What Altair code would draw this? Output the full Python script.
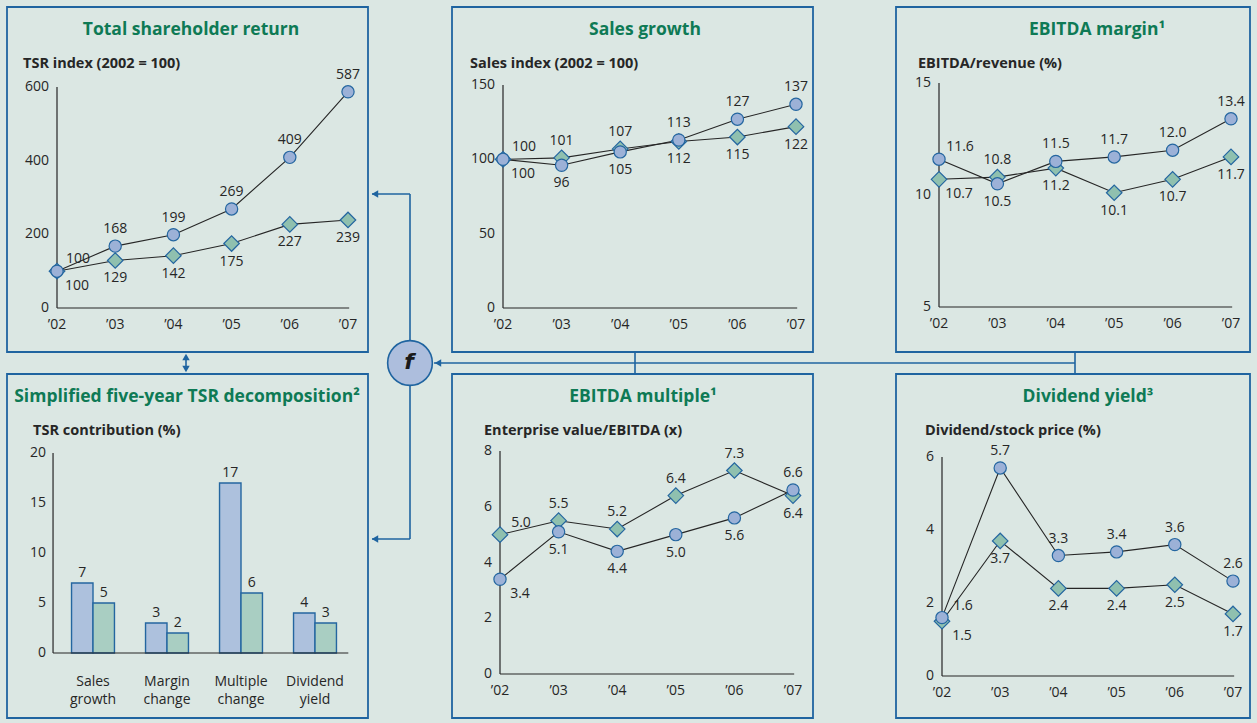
import altair as alt
import pandas as pd

# ---- values -------------------------------------------------------------
YEARS = ["’02", "’03", "’04", "’05", "’06", "’07"]

TSR_CIRCLE = [100, 168, 199, 269, 409, 587]
TSR_DIAMOND = [100, 129, 142, 175, 227, 239]
TSR_TICKS = [0, 200, 400, 600]

SALES_CIRCLE = [100, 96, 105, 113, 127, 137]
SALES_DIAMOND = [100, 101, 107, 112, 115, 122]
SALES_TICKS = [0, 50, 100, 150]

MARGIN_CIRCLE = [11.6, 10.5, 11.5, 11.7, 12.0, 13.4]
MARGIN_DIAMOND = [10.7, 10.8, 11.2, 10.1, 10.7, 11.7]
MARGIN_TICKS = [5, 10, 15]

MULTIPLE_CIRCLE = [3.4, 5.1, 4.4, 5.0, 5.6, 6.6]
MULTIPLE_DIAMOND = [5.0, 5.5, 5.2, 6.4, 7.3, 6.4]
MULTIPLE_TICKS = [0, 2, 4, 6, 8]

DIVIDEND_CIRCLE = [1.6, 5.7, 3.3, 3.4, 3.6, 2.6]
DIVIDEND_DIAMOND = [1.5, 3.7, 2.4, 2.4, 2.5, 1.7]
DIVIDEND_TICKS = [0, 2, 4, 6]

DECOMP_CATS = ["Sales growth", "Margin change", "Multiple change", "Dividend yield"]
DECOMP_BLUE = [7, 3, 17, 4]
DECOMP_GREEN = [5, 2, 6, 3]
DECOMP_TICKS = [0, 5, 10, 15, 20]

# ---- style --------------------------------------------------------------
FONT = "Open Sans"
INK = "#262626"
TITLE_GREEN = "#0e7a55"
FRAME_BLUE = "#1f64a0"
CIRCLE_FILL = "#9cb1d7"
DIAMOND_FILL = "#8fc0af"
MARKER_STROKE = "#2466a0"
BAR_BLUE = "#adc1dd"
BAR_GREEN = "#a9cec2"
BG = "#dbe7e3"
NUM_SIZE = 14
TITLE_SIZE = 17.5
SUB_SIZE = 14.5


def series_frame(circle, diamond):
    rows = []
    for i, (c, d) in enumerate(zip(circle, diamond)):
        c_up = c >= d
        rows.append(dict(i=i, v=c, s="circle", up=c_up, first=(i == 0)))
        rows.append(dict(i=i, v=d, s="diamond", up=(not c_up), first=(i == 0)))
    return pd.DataFrame(rows)


def line_panel(circle, diamond, ticks, fmt, xr, ydom, yr):
    df = series_frame(circle, diamond)
    xsc = alt.Scale(domain=[0, 5], range=list(xr), nice=False, zero=False)
    ysc = alt.Scale(domain=list(ydom), range=list(yr), nice=False, zero=False)

    def X(field="i:Q"):
        return alt.X(field, scale=xsc, axis=None)

    def Y(field="v:Q"):
        return alt.Y(field, scale=ysc, axis=None)

    x0 = alt.X(datum=0, type="quantitative", scale=xsc, axis=None)
    layers = []
    # axis lines
    layers.append(
        alt.Chart().mark_rule(color=INK, strokeWidth=1.2).encode(
            x=x0,
            y=alt.Y(datum=ydom[0], type="quantitative", scale=ysc, axis=None),
            y2=alt.Y2(datum=ydom[1]),
        )
    )
    layers.append(
        alt.Chart().mark_rule(color=INK, strokeWidth=1.2).encode(
            x=x0,
            x2=alt.X2(datum=5.02),
            y=alt.Y(datum=ydom[0], type="quantitative", scale=ysc, axis=None),
        )
    )
    # tick labels
    layers.append(
        alt.Chart(pd.DataFrame({"t": ticks})).mark_text(
            align="right", dx=-8, font=FONT, fontSize=NUM_SIZE, color=INK
        ).encode(x=x0, y=Y("t:Q"), text="t:Q")
    )
    layers.append(
        alt.Chart(pd.DataFrame({"i": list(range(6)), "year": YEARS})).mark_text(
            dy=17, font=FONT, fontSize=NUM_SIZE, color=INK
        ).encode(
            x=X(),
            y=alt.Y(datum=ydom[0], type="quantitative", scale=ysc, axis=None),
            text="year:N",
        )
    )
    base = alt.Chart(df)
    for s in ["diamond", "circle"]:
        layers.append(
            base.transform_filter(alt.datum.s == s)
            .mark_line(color=INK, strokeWidth=1.1)
            .encode(x=X(), y=Y(), order="i:Q")
        )
    layers.append(
        base.transform_filter(alt.datum.s == "diamond")
        .mark_point(shape="diamond", filled=True, fill=DIAMOND_FILL,
                    stroke=MARKER_STROKE, strokeWidth=1.2, size=240, opacity=1)
        .encode(x=X(), y=Y())
    )
    layers.append(
        base.transform_filter(alt.datum.s == "circle")
        .mark_point(shape="circle", filled=True, fill=CIRCLE_FILL,
                    stroke=MARKER_STROKE, strokeWidth=1.2, size=150, opacity=1)
        .encode(x=X(), y=Y())
    )
    # value labels: the higher series above its marker, the lower one below
    placements = [
        ("datum.up && !datum.first", 0, -17),
        ("!datum.up && !datum.first", 0, 18),
        ("datum.up && datum.first", 21, -12),
        ("!datum.up && datum.first", 20, 15),
    ]
    for cond, dx, dy in placements:
        layers.append(
            base.transform_filter(cond)
            .mark_text(dx=dx, dy=dy, font=FONT, fontSize=NUM_SIZE, color=INK)
            .encode(x=X(), y=Y(), text=alt.Text("v:Q", format=fmt))
        )
    return layers


def box(x0, y0, x1, y1):
    return alt.Chart().mark_rect(
        fillOpacity=0, stroke=FRAME_BLUE, strokeWidth=1.8
    ).encode(x=alt.value(x0), x2=alt.value(x1), y=alt.value(y0), y2=alt.value(y1))


def label(text, x, y, size, weight="normal", color=INK, align="center"):
    return alt.Chart().mark_text(
        text=text, font=FONT, fontSize=size, fontWeight=weight, color=color,
        align=align, baseline="middle"
    ).encode(x=alt.value(x), y=alt.value(y))


def rule(x, y, x2=None, y2=None):
    enc = dict(x=alt.value(x), y=alt.value(y))
    if x2 is not None:
        enc["x2"] = alt.value(x2)
    if y2 is not None:
        enc["y2"] = alt.value(y2)
    return alt.Chart().mark_rule(color=FRAME_BLUE, strokeWidth=1.6).encode(**enc)


def arrow(x, y, shape):
    return alt.Chart().mark_point(
        shape=shape, filled=True, color=FRAME_BLUE, size=55, opacity=1
    ).encode(x=alt.value(x), y=alt.value(y))


layers = []

# ---- frames and headings ------------------------------------------------
layers += [
    box(7, 7, 368, 352), box(452, 7, 813, 352), box(896, 7, 1250, 352),
    box(7, 374, 368, 718), box(452, 374, 813, 718), box(896, 374, 1250, 718),
]
layers += [
    label("Total shareholder return", 191, 30, TITLE_SIZE, "bold", TITLE_GREEN),
    label("Sales growth", 645, 30, TITLE_SIZE, "bold", TITLE_GREEN),
    label("EBITDA margin¹", 1097, 30, TITLE_SIZE, "bold", TITLE_GREEN),
    label("Simplified five-year TSR decomposition²", 187, 397, TITLE_SIZE, "bold", TITLE_GREEN),
    label("EBITDA multiple¹", 643, 397, TITLE_SIZE, "bold", TITLE_GREEN),
    label("Dividend yield³", 1088, 397, TITLE_SIZE, "bold", TITLE_GREEN),
    label("TSR index (2002 = 100)", 23, 64, SUB_SIZE, "bold", align="left"),
    label("Sales index (2002 = 100)", 470, 64, SUB_SIZE, "bold", align="left"),
    label("EBITDA/revenue (%)", 918, 64, SUB_SIZE, "bold", align="left"),
    label("TSR contribution (%)", 33, 431, SUB_SIZE, "bold", align="left"),
    label("Enterprise value/EBITDA (x)", 484, 431, SUB_SIZE, "bold", align="left"),
    label("Dividend/stock price (%)", 925, 431, SUB_SIZE, "bold", align="left"),
]

# ---- connectors ---------------------------------------------------------
layers += [
    rule(410, 194, y2=341), rule(372, 194, x2=410), arrow(375, 194, "triangle-left"),
    rule(410, 385, y2=539), rule(372, 539, x2=410), arrow(375, 539, "triangle-left"),
    rule(434, 363, x2=1075), arrow(438, 363, "triangle-left"),
    rule(635, 352, y2=374), rule(1075, 352, y2=374),
    rule(186, 356, y2=370), arrow(186, 357, "triangle-up"), arrow(186, 369, "triangle-down"),
]
layers.append(
    alt.Chart().mark_point(shape="circle", filled=True, fill="#adbedd",
                           stroke=FRAME_BLUE, strokeWidth=1.6, size=2000, opacity=1)
    .encode(x=alt.value(410), y=alt.value(363))
)
layers.append(
    alt.Chart().mark_text(text="f", font="DejaVu Sans", fontSize=22, fontWeight="bold",
                          fontStyle="italic", color="#1a1a1a")
    .encode(x=alt.value(409), y=alt.value(362))
)

# ---- line panels --------------------------------------------------------
layers += line_panel(TSR_CIRCLE, TSR_DIAMOND, TSR_TICKS, ".0f",
                     (57, 348), (0, 600), (308, 87))
layers += line_panel(SALES_CIRCLE, SALES_DIAMOND, SALES_TICKS, ".0f",
                     (503, 796), (0, 150), (308, 85))
layers += line_panel(MARGIN_CIRCLE, MARGIN_DIAMOND, MARGIN_TICKS, ".1f",
                     (939, 1231), (5, 15), (307, 83))
layers += line_panel(MULTIPLE_CIRCLE, MULTIPLE_DIAMOND, MULTIPLE_TICKS, ".1f",
                     (500, 793), (0, 8), (674, 451))
layers += line_panel(DIVIDEND_CIRCLE, DIVIDEND_DIAMOND, DIVIDEND_TICKS, ".1f",
                     (942, 1233), (0, 6), (676, 457))

# ---- decomposition bars -------------------------------------------------
bars = pd.DataFrame(
    [dict(idx=k, cat=c, v=v, s="a") for k, (c, v) in enumerate(zip(DECOMP_CATS, DECOMP_BLUE))]
    + [dict(idx=k, cat=c, v=v, s="b") for k, (c, v) in enumerate(zip(DECOMP_CATS, DECOMP_GREEN))]
)
HALF = 0.29  # bar width in group-spacing units
dxs = alt.Scale(domain=[0, 3], range=[93, 315], nice=False, zero=False)
dys = alt.Scale(domain=[0, 20], range=[653, 453], nice=False, zero=False)
dx0 = alt.X(datum=-0.54, type="quantitative", scale=dxs, axis=None)
dy0 = alt.Y(datum=0, type="quantitative", scale=dys, axis=None)

bar_base = alt.Chart(bars).transform_calculate(
    x0=f"datum.idx + (datum.s == 'a' ? -{HALF} : 0)",
    x1=f"datum.idx + (datum.s == 'a' ? 0 : {HALF})",
    xm=f"datum.idx + (datum.s == 'a' ? -{HALF / 2} : {HALF / 2})",
)
layers.append(
    bar_base.mark_rect(stroke=MARKER_STROKE, strokeWidth=1.4).encode(
        x=alt.X("x0:Q", scale=dxs, axis=None),
        x2="x1:Q",
        y=alt.Y("v:Q", scale=dys, axis=None),
        y2=alt.Y2(datum=0),
        color=alt.Color("s:N", scale=alt.Scale(domain=["a", "b"], range=[BAR_BLUE, BAR_GREEN]),
                        legend=None),
    )
)
layers.append(
    bar_base.mark_text(dy=-10, font=FONT, fontSize=NUM_SIZE, color=INK).encode(
        x=alt.X("xm:Q", scale=dxs, axis=None),
        y=alt.Y("v:Q", scale=dys, axis=None),
        text="v:Q",
    )
)
layers.append(
    alt.Chart().mark_rule(color=INK, strokeWidth=1.2).encode(
        x=dx0, y=alt.Y(datum=0, type="quantitative", scale=dys, axis=None), y2=alt.Y2(datum=20)
    )
)
layers.append(
    alt.Chart().mark_rule(color=INK, strokeWidth=1.2).encode(
        x=dx0, x2=alt.X2(datum=3.45), y=dy0
    )
)
layers.append(
    alt.Chart(pd.DataFrame({"t": DECOMP_TICKS})).mark_text(
        align="right", dx=-7, font=FONT, fontSize=NUM_SIZE, color=INK
    ).encode(x=dx0, y=alt.Y("t:Q", scale=dys, axis=None), text="t:Q")
)
# category names, one word per line
cat_frame = pd.DataFrame({"idx": list(range(4)), "cat": DECOMP_CATS})
for word, dy in [(0, 29), (1, 47)]:
    layers.append(
        alt.Chart(cat_frame)
        .transform_calculate(w=f"split(datum.cat, ' ')[{word}]")
        .mark_text(dy=dy, font=FONT, fontSize=NUM_SIZE, color=INK)
        .encode(x=alt.X("idx:Q", scale=dxs, axis=None), y=dy0, text="w:N")
    )

chart = (
    alt.layer(*layers, data=pd.DataFrame({"k": [0]}))
    .resolve_scale(x="independent", y="independent")
    .properties(width=1257, height=723, autosize="none", padding=0, background=BG)
    .configure_view(stroke=None)
)

chart.save("out.html", embed_options={"renderer": "svg", "actions": False})
